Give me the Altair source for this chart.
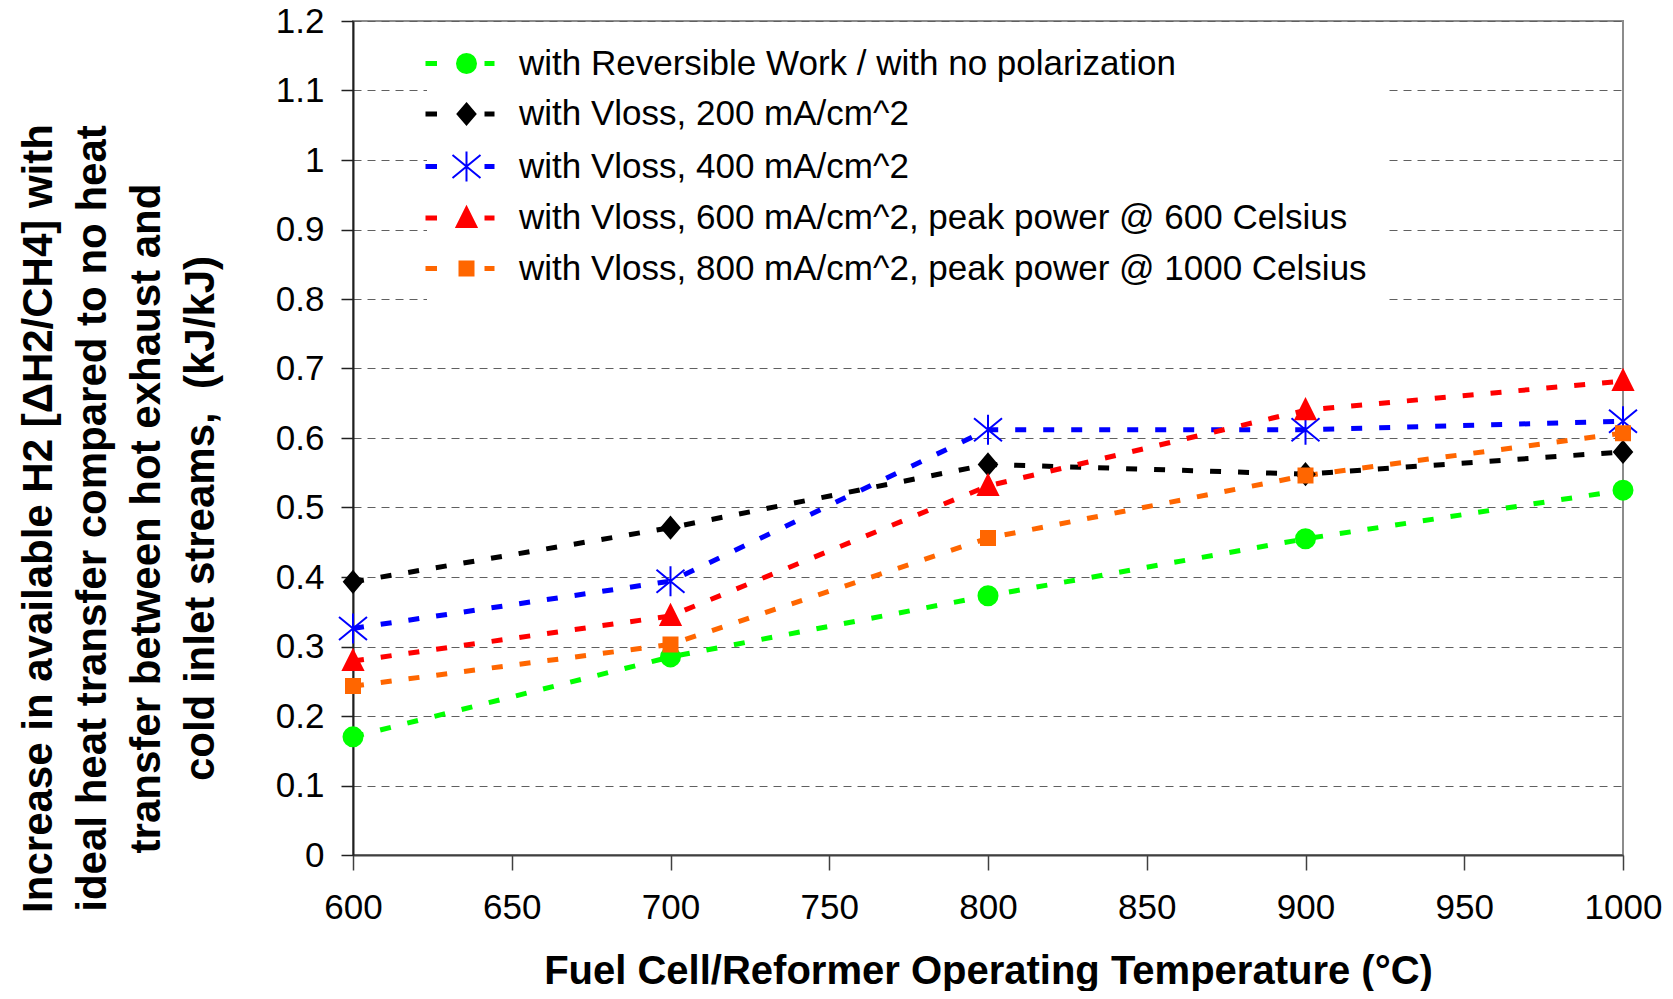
import altair as alt
import pandas as pd

# ---------------- data ----------------
temps = [600, 700, 800, 900, 1000]
series_names = [
    "with Reversible Work / with no polarization",
    "with Vloss, 200 mA/cm^2",
    "with Vloss, 400 mA/cm^2",
    "with Vloss, 600 mA/cm^2, peak power @ 600 Celsius",
    "with Vloss, 800 mA/cm^2, peak power @ 1000 Celsius",
]
reversible = [0.170, 0.285, 0.373, 0.455, 0.525]
vloss_200 = [0.393, 0.471, 0.562, 0.548, 0.580]
vloss_400 = [0.326, 0.394, 0.612, 0.612, 0.624]
vloss_600 = [0.279, 0.344, 0.531, 0.640, 0.682]
vloss_800 = [0.243, 0.303, 0.456, 0.546, 0.607]
series_values = [reversible, vloss_200, vloss_400, vloss_600, vloss_800]

colors = ["#00FF00", "#000000", "#0000FF", "#FF0000", "#FF6600"]
x_ticks = [600, 650, 700, 750, 800, 850, 900, 950, 1000]
y_ticks = [0, 0.1, 0.2, 0.3, 0.4, 0.5, 0.6, 0.7, 0.8, 0.9, 1, 1.1, 1.2]
y_title = [
    "Increase in available H2 [\u0394H2/CH4] with",
    "ideal heat transfer compared to no heat",
    "transfer between hot exhaust and",
    "cold inlet streams,\u00a0\u00a0(kJ/kJ)",
]
x_title = "Fuel Cell/Reformer Operating Temperature (\u00b0C)"

# marker shapes (unit square paths)
marker_paths = [
    "M0.95,0A0.95,0.95 0 1,1 -0.95,0A0.95,0.95 0 1,1 0.95,0Z",
    "M0,-1.05L0.9,0L0,1.05L-0.9,0Z",
    "M0,-1.5L0,1.5M-1.4,-1.15L1.4,1.15M-1.4,1.15L1.4,-1.15",
    "M0,-1.1L1.0,0.9L-1.0,0.9Z",
    "M-0.7,-0.7L0.7,-0.7L0.7,0.7L-0.7,0.7Z",
]
dash_left = "M-4,-0.15L-3.05,-0.15L-3.05,0.15L-4,0.15Z"
dash_right = "M1.9,-0.15L2.7,-0.15L2.7,0.15L1.9,0.15Z"
legend_paths = [dash_left + p + dash_right for p in marker_paths]

rows = []
for name, vals in zip(series_names, series_values):
    for t, v in zip(temps, vals):
        rows.append({"temp": t, "value": v, "series": name})
df = pd.DataFrame(rows)

FONT = "Liberation Sans"

x_enc = alt.X(
    "temp:Q",
    scale=alt.Scale(domain=[600, 1000], nice=False, zero=False),
    axis=alt.Axis(
        values=x_ticks, format="d",
        title=x_title, titleFont=FONT, titleFontSize=40, titleFontWeight="bold",
        titleColor="#000000", titleY=128, titleBaseline="alphabetic",
        labelFont=FONT, labelFontSize=35, labelColor="#000000",
        labelPadding=48, labelBaseline="alphabetic",
        labelFlush=False, labelOverlap=False,
        tickSize=15, tickColor="#404040", tickWidth=1.5,
        domainColor="#404040", domainWidth=2, grid=False,
    ),
)
y_enc = alt.Y(
    "value:Q",
    scale=alt.Scale(domain=[0, 1.2], nice=False, zero=True),
    axis=alt.Axis(
        values=y_ticks, format="~g",
        title=y_title, titleFont=FONT, titleFontSize=42, titleFontWeight="bold",
        titleColor="#000000", titleAngle=270, titleAlign="center",
        titleBaseline="middle", titleLineHeight=54, titleX=-315, titleY=497,
        labelFont=FONT, labelFontSize=35, labelColor="#000000", labelPadding=17,
        labelFlush=False, labelOverlap=False,
        tickSize=12, tickColor="#202020", tickWidth=1.5,
        domainColor="#202020", domainWidth=2,
        grid=True, gridColor="#606060", gridDash=[8, 6], gridWidth=1,
    ),
)

color_scale = alt.Scale(domain=series_names, range=colors)

lines = alt.Chart(df).mark_line(strokeWidth=5, strokeDash=[11, 17]).encode(
    x=x_enc, y=y_enc,
    color=alt.Color("series:N", scale=color_scale, legend=None),
)

points = alt.Chart(df).mark_point(filled=True, size=400, strokeWidth=2, opacity=1).encode(
    x=x_enc, y=y_enc,
    color=alt.Color("series:N", scale=color_scale, legend=None),
    stroke=alt.Stroke("series:N", scale=alt.Scale(domain=series_names, range=colors), legend=None),
    shape=alt.Shape("series:N", scale=alt.Scale(domain=series_names, range=marker_paths), legend=None),
)

legend = alt.Legend(
    title=None, orient="none", legendX=74, legendY=3, direction="vertical",
    labelFont=FONT, labelFontSize=35, labelColor="#000000", labelLimit=1500,
    labelOffset=35, rowPadding=14.5, padding=22,
    symbolSize=400, symbolStrokeWidth=2, symbolOpacity=1,
    fillColor="#FFFFFF",
)

legend_layer = alt.Chart(df).mark_point(filled=True, size=400, strokeWidth=2, opacity=0).encode(
    x=x_enc, y=y_enc,
    fill=alt.Fill("series:N", scale=alt.Scale(domain=series_names, range=colors), legend=legend),
    stroke=alt.Stroke("series:N", scale=alt.Scale(domain=series_names, range=colors), legend=legend),
    shape=alt.Shape("series:N", scale=alt.Scale(domain=series_names, range=legend_paths), legend=legend),
)

chart = (
    alt.layer(lines, points, legend_layer)
    .resolve_scale(shape="independent", fill="independent", stroke="independent")
    .properties(
        width=1270, height=834,
        autosize=alt.AutoSizeParams(type="none"),
        padding={"left": 345, "top": 13, "right": 42, "bottom": 136},
        background="#FFFFFF",
    )
    .configure(font=FONT)
    .configure_view(stroke="#8c8c8c", strokeWidth=2)
)

chart.save("out.html", embed_options={"renderer": "svg", "actions": False})
